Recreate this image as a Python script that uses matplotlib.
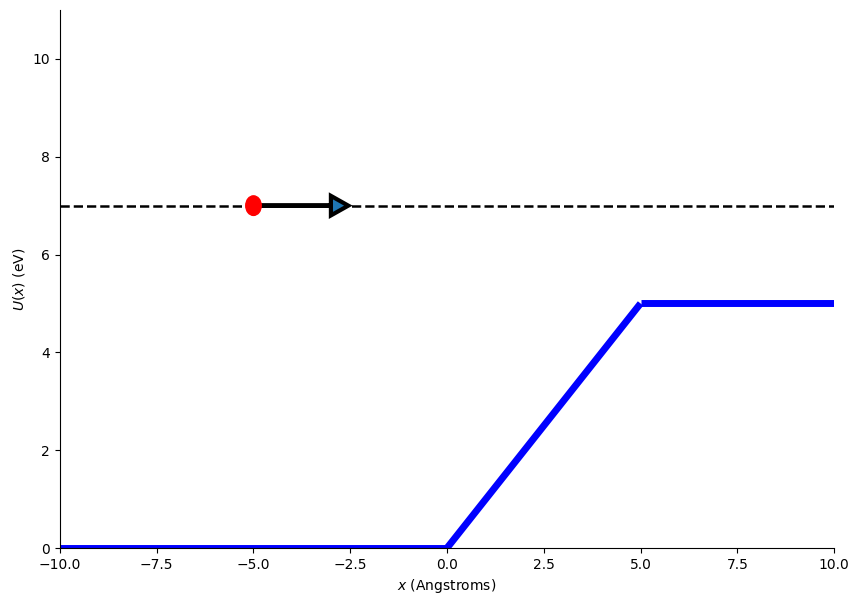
import numpy as np
import matplotlib
matplotlib.use("Agg")
import matplotlib.pyplot as plt

# potential step pieces
x_left = [-10, 0]
u_left = [0, 0]
x_ramp = [0, 5]
u_ramp = [0, 5]
x_right = [5, 10]
u_right = [5, 5]

E = 7.0       # particle energy (eV)
x0 = -5.0     # particle start

fig, ax = plt.subplots(figsize=(8.59, 6.06), dpi=100)
fig.subplots_adjust(left=0.0698, right=0.971, top=0.9835, bottom=0.0957)

ax.plot(x_left, u_left, "b-", lw=5, solid_capstyle="butt")
ax.plot(x_ramp, u_ramp, "b-", lw=5, solid_capstyle="butt")
ax.plot(x_right, u_right, "b-", lw=5, solid_capstyle="butt")

ax.axhline(E, color="k", ls="--", lw=1.8)
ax.add_patch(plt.Circle((x0, E), 0.2, color="r", zorder=5))
ax.arrow(x0, E, 2.0, 0, head_width=0.4, head_length=0.45, lw=3, ec="k", zorder=4)

ax.set_xlim(-10, 10)
ax.set_ylim(0, 11)
ax.set_xlabel("$x$ (Angstroms)")
ax.set_ylabel("$U(x)$ (eV)")
ax.spines["top"].set_visible(False)
ax.spines["right"].set_visible(False)

plt.savefig("out.png")
